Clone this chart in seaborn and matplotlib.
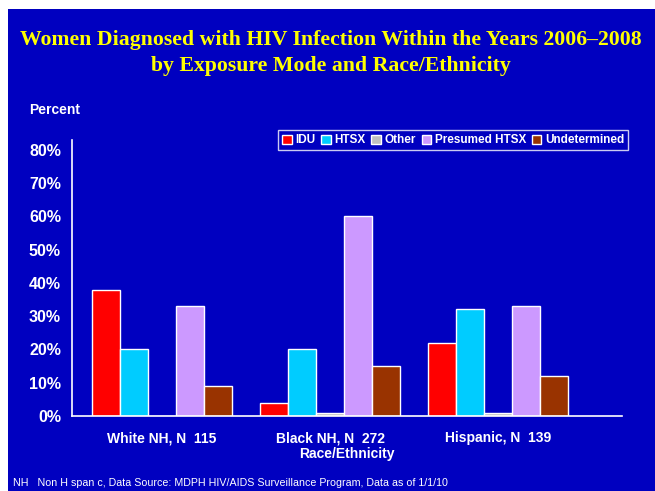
import pandas as pd
import matplotlib.pyplot as plt
from matplotlib.patches import Rectangle
import seaborn as sns

# Chart data
groups = ['White NH, N  115', 'Black NH, N  272', 'Hispanic, N  139']
modes = ['IDU', 'HTSX', 'Other', 'Presumed HTSX', 'Undetermined']
idu = [38, 4, 22]
htsx = [20, 20, 32]
other = [0, 1, 1]
presumed = [33, 60, 33]
undetermined = [9, 15, 12]
yticks = [0, 10, 20, 30, 40, 50, 60, 70, 80]

colors = ['#FF0000', '#00CCFF', '#C0C0C0', '#CC99FF', '#993300']
bg = '#0000C0'

rows = []
for mode, vals in zip(modes, [idu, htsx, other, presumed, undetermined]):
    for g, v in zip(groups, vals):
        rows.append({'group': g, 'mode': mode, 'pct': v})
df = pd.DataFrame(rows)

sns.set_style('white')
plt.rcParams['font.family'] = ['Liberation Sans', 'DejaVu Sans']

fig = plt.figure(figsize=(6.55, 4.91), dpi=100, facecolor='white')
# blue slide background with thin white strip at left and top
fig.add_artist(Rectangle((8 / 655, 0), 1, 1 - 9 / 491, transform=fig.transFigure,
                         facecolor=bg, edgecolor='none', zorder=-10))

ax = fig.add_axes([0.110, 0.153, 0.840, 0.562])
ax.set_facecolor(bg)

sns.barplot(data=df, x='group', y='pct', hue='mode', order=groups, hue_order=modes,
            palette=colors, edgecolor='white', linewidth=1.0, width=0.83,
            saturation=1, ax=ax)

ax.set_xlim(-0.536, 2.738)
ax.set_ylim(0, 83)
ax.set_yticks(yticks)
ax.set_yticklabels([f'{t}%' for t in yticks], color='white', fontsize=11.5, fontweight='bold')
ax.set_xticks(range(len(groups)))
ax.set_xticklabels(groups, color='white', fontsize=10, fontweight='bold')
ax.tick_params(axis='y', length=0, pad=8)
ax.tick_params(axis='x', length=0, pad=11)
ax.set_xlabel('Race/Ethnicity', color='white', fontsize=10, fontweight='bold', labelpad=1)
ax.set_ylabel('')

for s in ['top', 'right']:
    ax.spines[s].set_visible(False)
for s in ['left', 'bottom']:
    ax.spines[s].set_color('white')
    ax.spines[s].set_linewidth(1.2)

leg = ax.legend(loc='upper right', bbox_to_anchor=(1.011, 1.036), ncol=5, frameon=True,
                prop={'weight': 'bold', 'size': 8.5}, handlelength=0.8,
                handleheight=0.8, handletextpad=0.3, columnspacing=0.5,
                borderpad=0.35, borderaxespad=0, fancybox=False)
leg.get_frame().set_facecolor(bg)
leg.get_frame().set_edgecolor('white')
for t in leg.get_texts():
    t.set_color('white')

title_font = ['Liberation Serif', 'DejaVu Serif']
fig.text(0.505, 1 - 40 / 491, 'Women Diagnosed with HIV Infection Within the Years 2006\u20132008',
         ha='center', va='center', color='#FFFF00', fontsize=15.7, fontweight='bold',
         family=title_font)
fig.text(0.505, 1 - 66 / 491, 'by Exposure Mode and Race/Ethnicity',
         ha='center', va='center', color='#FFFF00', fontsize=15.7, fontweight='bold',
         family=title_font)
fig.text(0.045, 1 - 110 / 491, 'Percent', color='white', fontsize=10, fontweight='bold',
         va='center')
fig.text(0.02, 1 - 483 / 491,
         'NH   Non H span c, Data Source: MDPH HIV/AIDS Surveillance Program, Data as of 1/1/10',
         color='white', fontsize=7.7, va='center')

fig.savefig('out.png', dpi=100, facecolor='white')
